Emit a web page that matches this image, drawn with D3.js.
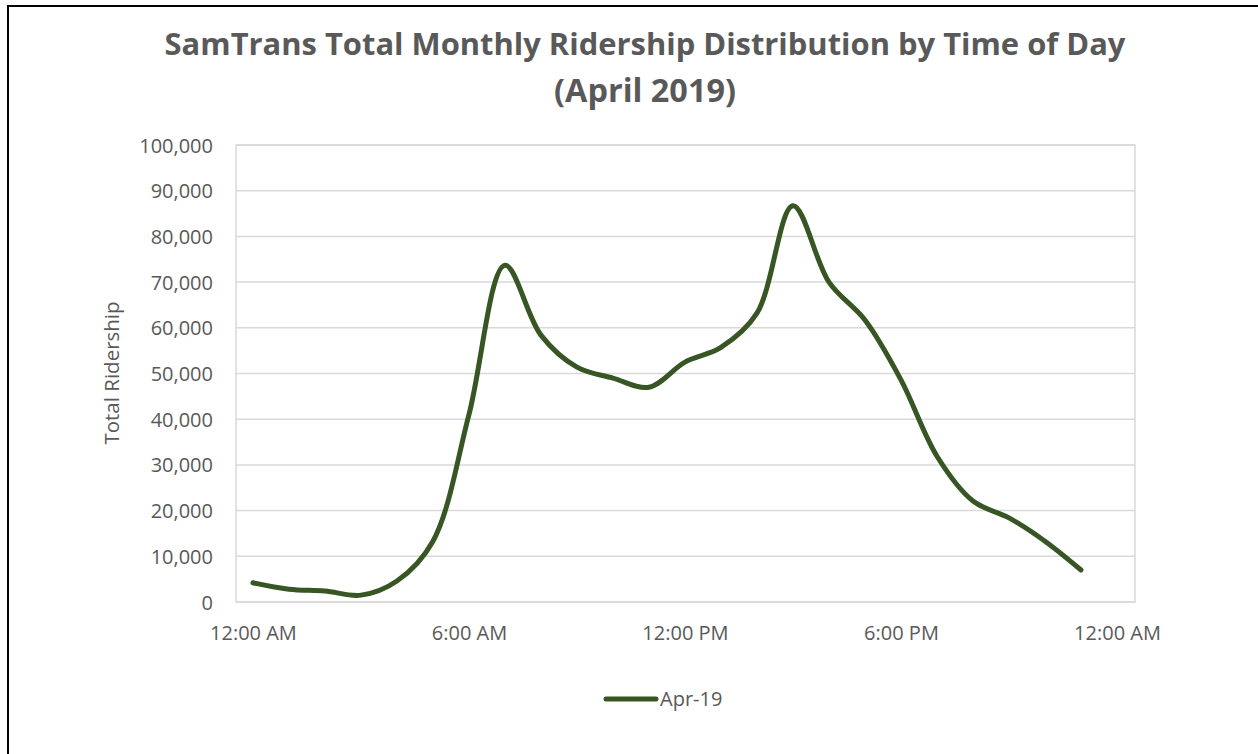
<!DOCTYPE html>
<html lang="en">
  <head>
      <meta charset="utf-8">
      <title>SamTrans Ridership by Time of Day</title>
      <script type="text/javascript" src="https://cdn.jsdelivr.net/npm/d3@7"></script>
      <style>
        body { margin: 0; background: #fff; }
        text { font-family: "Open Sans", "Liberation Sans", sans-serif; fill: #595959; }
      </style>
  </head>
  <body>
      <script type="text/javascript">

      // hour of day (0 = 12:00 AM) and total monthly riders
      var hours = [0, 1, 2, 3, 4, 5, 6, 7, 8, 9, 10, 11, 12, 13, 14, 15, 16, 17, 18, 19, 20, 21, 22, 23];
      var riders = [4200, 2800, 2400, 1500, 4600, 13300, 41000, 73700, 58400, 51400, 49000, 47000,
                    52500, 55700, 63200, 86700, 70000, 61700, 48600, 31900, 22100, 18400, 13300, 7000];
      var xTicks = [0, 6, 12, 18, 24];
      var xTickLabels = ["12:00 AM", "6:00 AM", "12:00 PM", "6:00 PM", "12:00 AM"];
      var yTicks = [0, 10000, 20000, 30000, 40000, 50000, 60000, 70000, 80000, 90000, 100000];
      var seriesName = "Apr-19";

      var w = 1258;
      var h = 754;
      var plotL = 236, plotR = 1135, plotT = 145, plotB = 602;
      var lineColor = "#375623";

      var svg = d3.select("body").append("svg").attr("width", w).attr("height", h);

      // frame
      svg.append("line").attr("x1", 8).attr("x2", 8).attr("y1", 6).attr("y2", h)
        .attr("stroke", "black").attr("stroke-width", 2);
      svg.append("line").attr("x1", 7).attr("x2", w).attr("y1", 6).attr("y2", 6)
        .attr("stroke", "black").attr("stroke-width", 2);

      var x = d3.scaleLinear().domain([-0.47, 24.5]).range([plotL, plotR]);
      var y = d3.scaleLinear().domain([0, 100000]).range([plotB, plotT]);

      // fit a text element to a target width by adjusting font size
      function fit(sel, width) {
        var fs = parseFloat(sel.attr("font-size"));
        var len = sel.node().getComputedTextLength();
        sel.attr("font-size", fs * width / len);
      }

      // title
      var t1 = svg.append("text").text("SamTrans Total Monthly Ridership Distribution by Time of Day")
        .attr("x", 645).attr("y", 55).attr("text-anchor", "middle")
        .attr("font-weight", "bold").attr("font-size", 28);
      fit(t1, 961);
      var t2 = svg.append("text").text("(April 2019)")
        .attr("x", 645).attr("y", 102).attr("text-anchor", "middle")
        .attr("font-weight", "bold").attr("font-size", 28);
      fit(t2, 182);

      // gridlines
      svg.append("g").selectAll("line").data(yTicks).enter().append("line")
        .attr("x1", plotL).attr("x2", plotR)
        .attr("y1", function(d){ return y(d); }).attr("y2", function(d){ return y(d); })
        .attr("stroke", "#d9d9d9").attr("stroke-width", 1.5);
      // plot area border
      svg.append("rect").attr("x", plotL).attr("y", plotT)
        .attr("width", plotR - plotL).attr("height", plotB - plotT)
        .attr("fill", "none").attr("stroke", "#d9d9d9").attr("stroke-width", 1.5);

      // y axis labels
      var yAxis = svg.append("g").attr("transform", "translate(" + (plotL - 23) + ",0)")
        .call(d3.axisLeft(y).tickValues(yTicks).tickFormat(d3.format(",")).tickSize(0).tickPadding(0));
      yAxis.select(".domain").remove();
      yAxis.selectAll("text").attr("font-size", 20).attr("font-family", null).attr("fill", "#595959").attr("dy", "0.35em");

      // x axis labels
      var xAxis = svg.append("g").attr("transform", "translate(0," + (plotB + 24) + ")")
        .call(d3.axisBottom(x).tickValues(xTicks).tickFormat(function(d, i){ return xTickLabels[i]; })
          .tickSize(0).tickPadding(0));
      xAxis.select(".domain").remove();
      xAxis.selectAll("text").attr("font-size", 20).attr("font-family", null).attr("fill", "#595959").attr("dy", "0.71em");

      // axis title
      svg.append("text").text("Total Ridership")
        .attr("transform", "translate(119,373) rotate(-90)")
        .attr("text-anchor", "middle").attr("font-size", 20.5);

      // line
      var line = d3.line()
        .x(function(d, i){ return x(hours[i]); })
        .y(function(d){ return y(d); })
        .curve(d3.curveCatmullRom.alpha(0.5));
      svg.append("path").datum(riders).attr("d", line)
        .attr("fill", "none").attr("stroke", lineColor).attr("stroke-width", 5)
        .attr("stroke-linecap", "round").attr("stroke-linejoin", "round");

      // legend
      svg.append("line").attr("x1", 606).attr("x2", 656).attr("y1", 699).attr("y2", 699)
        .attr("stroke", lineColor).attr("stroke-width", 5).attr("stroke-linecap", "round");
      svg.append("text").text(seriesName).attr("x", 660).attr("y", 699).attr("dy", "0.35em")
        .attr("font-size", 20);

      </script>
  </body>
</html>
